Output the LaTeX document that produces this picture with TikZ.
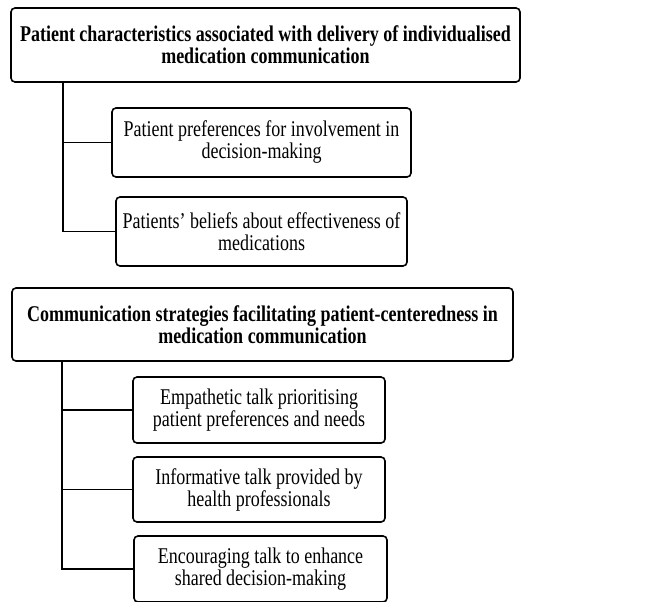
\documentclass[tikz,border=0pt]{standalone}
\usepackage{fontspec}
\setmainfont[FakeStretch=0.8]{Liberation Serif}
\begin{document}
\begin{tikzpicture}[x=1pt,y=-1pt,
	headbox/.style={draw,line width=1.6pt,rounded corners=4pt,align=center,inner sep=0pt,
		font=\fontsize{22.5}{22}\selectfont\bfseries},
	itembox/.style={draw,line width=1.6pt,rounded corners=4pt,align=center,inner sep=0pt,
		font=\fontsize{22.5}{22}\selectfont},
	link/.style={line width=1.6pt}]
	\useasboundingbox (0,0) rectangle (648,602);
	% first group
	\node[headbox,minimum width=509pt,minimum height=74pt] (pat) at (265.5,45)
		{Patient characteristics associated with delivery of individualised\\medication communication};
	\node[itembox,minimum width=299pt,minimum height=69pt] (pref) at (261.5,142.5)
		{Patient preferences for involvement in\\decision-making};
	\node[itembox,minimum width=291pt,minimum height=69pt] (belief) at (261.5,231.5)
		{Patients’ beliefs about effectiveness of\\medications};
	\coordinate (pattop) at (63,82);
	\draw[link] (pattop) |- (belief.west);
	\draw[line width=.6pt] (pref.west) -- (pref.west -| pattop);
	% second group
	\node[headbox,minimum width=501pt,minimum height=73pt] (comm) at (262.5,324.5)
		{Communication strategies facilitating patient-centeredness in\\medication communication};
	\node[itembox,minimum width=252pt,minimum height=66pt] (empath) at (259,410)
		{Empathetic talk prioritising\\patient preferences and needs};
	\node[itembox,minimum width=252pt,minimum height=65pt] (inform) at (259,489.5)
		{Informative talk provided by\\health professionals};
	\node[itembox,minimum width=253pt,minimum height=66pt] (encour) at (260.5,569)
		{Encouraging talk to enhance\\shared decision-making};
	\coordinate (commtop) at (62,361);
	\draw[link] (commtop) |- (encour.west);
	\draw[link] (empath.west) -- (empath.west -| commtop);
	\draw[link] (inform.west) -- (inform.west -| commtop);
\end{tikzpicture}
\end{document}
